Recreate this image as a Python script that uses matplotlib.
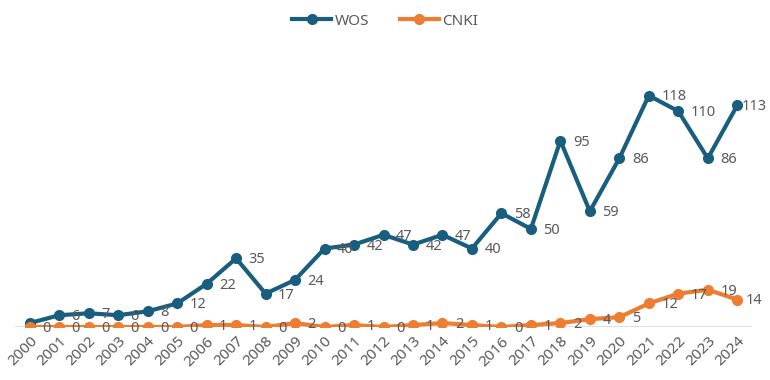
import numpy as np
import matplotlib
matplotlib.use("Agg")
from matplotlib import pyplot as plt

years = [str(y) for y in range(2000, 2025)]
wos = [2, 6, 7, 6, 8, 12, 22, 35, 17, 24, 40, 42, 47, 42, 47, 40, 58, 50, 95, 59, 86, 118, 110, 86, 113]
cnki = [0, 0, 0, 0, 0, 0, 1, 1, 0, 2, 0, 1, 0, 1, 2, 1, 0, 1, 2, 4, 5, 12, 17, 19, 14]

plt.rcParams['font.family'] = ['Noto Sans', 'DejaVu Sans']

blue = '#195e7f'
orange = '#ed7d31'
grey = '#595959'

fig = plt.figure(figsize=(7.7, 3.8), dpi=100)
ax = fig.add_axes([15 / 770, 53 / 380, 737 / 770, 255 / 380])

x = np.arange(len(years))
ax.plot(x, wos, color=blue, lw=3.0, marker='o', ms=7, label='WOS', zorder=3)
ax.plot(x, cnki, color=orange, lw=3.0, marker='o', ms=7, label='CNKI', zorder=3)

# data labels to the right of each point (WOS 2000 label is hidden in the original)
last = len(years) - 1
for i in range(1, len(years)):
    dx = 3 if i == last else 9
    ax.annotate(str(wos[i]), (x[i], wos[i]), xytext=(dx, -1), textcoords='offset points',
                ha='left', va='center', fontsize=10.5, color=grey, zorder=4)
for i in range(len(years)):
    dx = 6 if i == last else 9
    ax.annotate(str(cnki[i]), (x[i], cnki[i]), xytext=(dx, -1), textcoords='offset points',
                ha='left', va='center', fontsize=10.5, color=grey, zorder=4)

ax.set_xlim(-0.5, len(years) - 0.5)
ax.set_ylim(0, 130)
ax.axhline(0, color='#d9d9d9', lw=1.2, zorder=1)
for s in ax.spines.values():
    s.set_visible(False)
ax.set_yticks([])
ax.set_xticks(x)
ax.set_xticklabels(years, rotation=45, ha='right', va='top', rotation_mode='anchor',
                   fontsize=11, color=grey)
ax.tick_params(axis='x', length=0, pad=5)

fig.legend(loc='upper center', bbox_to_anchor=(0.5, 1.0), ncol=2, frameon=False,
           fontsize=11, labelcolor=grey, handlelength=2.6, columnspacing=2.0, handletextpad=0.2)

fig.savefig('out.png', dpi=100)
